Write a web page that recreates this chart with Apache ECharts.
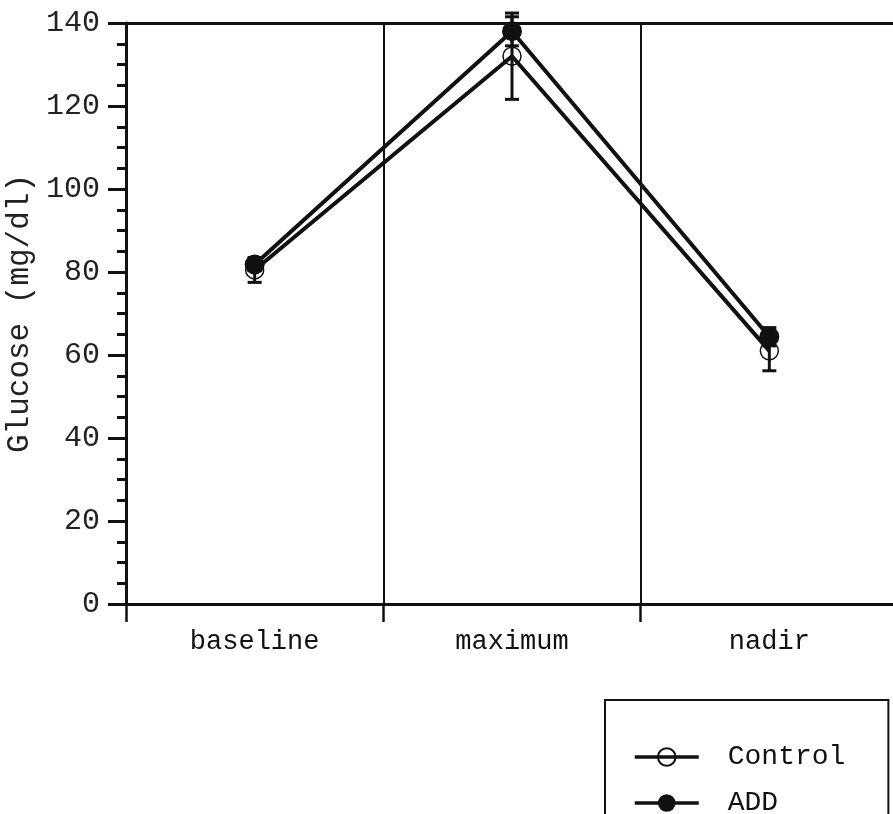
<!DOCTYPE html>
<html>
<head>
<meta charset="utf-8">
<style>
  html, body { margin: 0; padding: 0; background: #ffffff; }
  #chart { width: 893px; height: 814px; }
</style>
<script src="https://cdn.jsdelivr.net/npm/echarts@6/dist/echarts.min.js"></script>
</head>
<body>
<div id="chart"></div>
<script>
// Glucose by phase, mean with error bars
const categories = ['baseline', 'maximum', 'nadir'];
const controlMean = [80.5, 132, 61];
const controlErr = [3, 10.4, 4.8];
const addMean = [81.8, 138, 64.4];
const addErr = [1.5, 3.5, 2.2];
const yTicks = [0, 20, 40, 60, 80, 100, 120, 140];

const FONT = '"Liberation Mono", "Courier New", monospace';
const INK = '#111111';

function errorSeries(name, means, errs) {
  return {
    type: 'custom',
    name: name + ' error',
    z: 1,
    silent: true,
    data: means.map((m, i) => [i, m - errs[i], m + errs[i]]),
    renderItem: function (params, api) {
      const lo = api.coord([api.value(0), api.value(1)]);
      const hi = api.coord([api.value(0), api.value(2)]);
      const half = 7;
      const st = { stroke: INK, lineWidth: 3 };
      return {
        type: 'group',
        children: [
          { type: 'line', shape: { x1: lo[0], y1: lo[1], x2: hi[0], y2: hi[1] }, style: st },
          { type: 'line', shape: { x1: lo[0] - half, y1: lo[1], x2: lo[0] + half, y2: lo[1] }, style: st },
          { type: 'line', shape: { x1: hi[0] - half, y1: hi[1], x2: hi[0] + half, y2: hi[1] }, style: st }
        ]
      };
    }
  };
}

const chart = echarts.init(document.getElementById('chart'), null, { renderer: 'canvas' });

chart.setOption({
  animation: false,
  backgroundColor: '#ffffff',
  grid: { left: 126, top: 23, right: -5, bottom: 210, containLabel: false, outerBoundsMode: 'none' },
  legend: {
    data: ['Control', 'ADD'],
    orient: 'vertical',
    left: 605,
    top: 700,
    height: 200,
    padding: [43, 43, 60, 28],
    itemGap: 18,
    itemWidth: 64,
    itemHeight: 22,
    lineStyle: { width: 3.5 },
    borderColor: INK,
    borderWidth: 2,
    textStyle: { fontFamily: FONT, fontSize: 28, color: INK, padding: [0, 0, 0, 24] }
  },
  xAxis: [
    {
      type: 'category',
      data: categories,
      boundaryGap: true,
      axisLine: { show: true, lineStyle: { color: INK, width: 3 } },
      axisTick: { show: true, length: 18, lineStyle: { color: INK, width: 2.5 } },
      splitLine: { show: true, lineStyle: { color: INK, width: 2 } },
      axisLabel: { margin: 24, fontFamily: FONT, fontSize: 27, color: INK }
    },
    {
      type: 'category',
      position: 'top',
      data: categories,
      axisLine: { show: true, lineStyle: { color: INK, width: 3 } },
      axisTick: { show: false },
      axisLabel: { show: false },
      splitLine: { show: false }
    }
  ],
  yAxis: {
    type: 'value',
    min: 0,
    max: 140,
    interval: 20,
    name: 'Glucose (mg/dl)',
    nameLocation: 'middle',
    nameGap: 79,
    nameRotate: 90,
    nameTextStyle: { fontFamily: FONT, fontSize: 31, color: '#222222' },
    axisLine: { show: true, lineStyle: { color: INK, width: 3 } },
    axisTick: { show: true, length: 18, lineStyle: { color: INK, width: 3 } },
    minorTick: { show: true, splitNumber: 4, length: 9, lineStyle: { color: INK, width: 3 } },
    splitLine: { show: false },
    axisLabel: {
      margin: 26,
      fontFamily: FONT,
      fontSize: 30,
      color: '#222222',
      formatter: v => (yTicks.indexOf(v) >= 0 ? String(v) : '')
    }
  },
  series: [
    errorSeries('Control', controlMean, controlErr),
    errorSeries('ADD', addMean, addErr),
    {
      name: 'Control',
      type: 'line',
      z: 3,
      data: controlMean,
      symbol: 'circle',
      symbolSize: 18,
      lineStyle: { color: INK, width: 4 },
      itemStyle: { color: 'rgba(255,255,255,0)', borderColor: INK, borderWidth: 1.5 }
    },
    {
      name: 'ADD',
      type: 'line',
      z: 4,
      data: addMean,
      symbol: 'circle',
      symbolSize: 20,
      lineStyle: { color: INK, width: 4 },
      itemStyle: { color: INK, borderColor: INK, borderWidth: 0 }
    }
  ]
});
</script>
</body>
</html>
